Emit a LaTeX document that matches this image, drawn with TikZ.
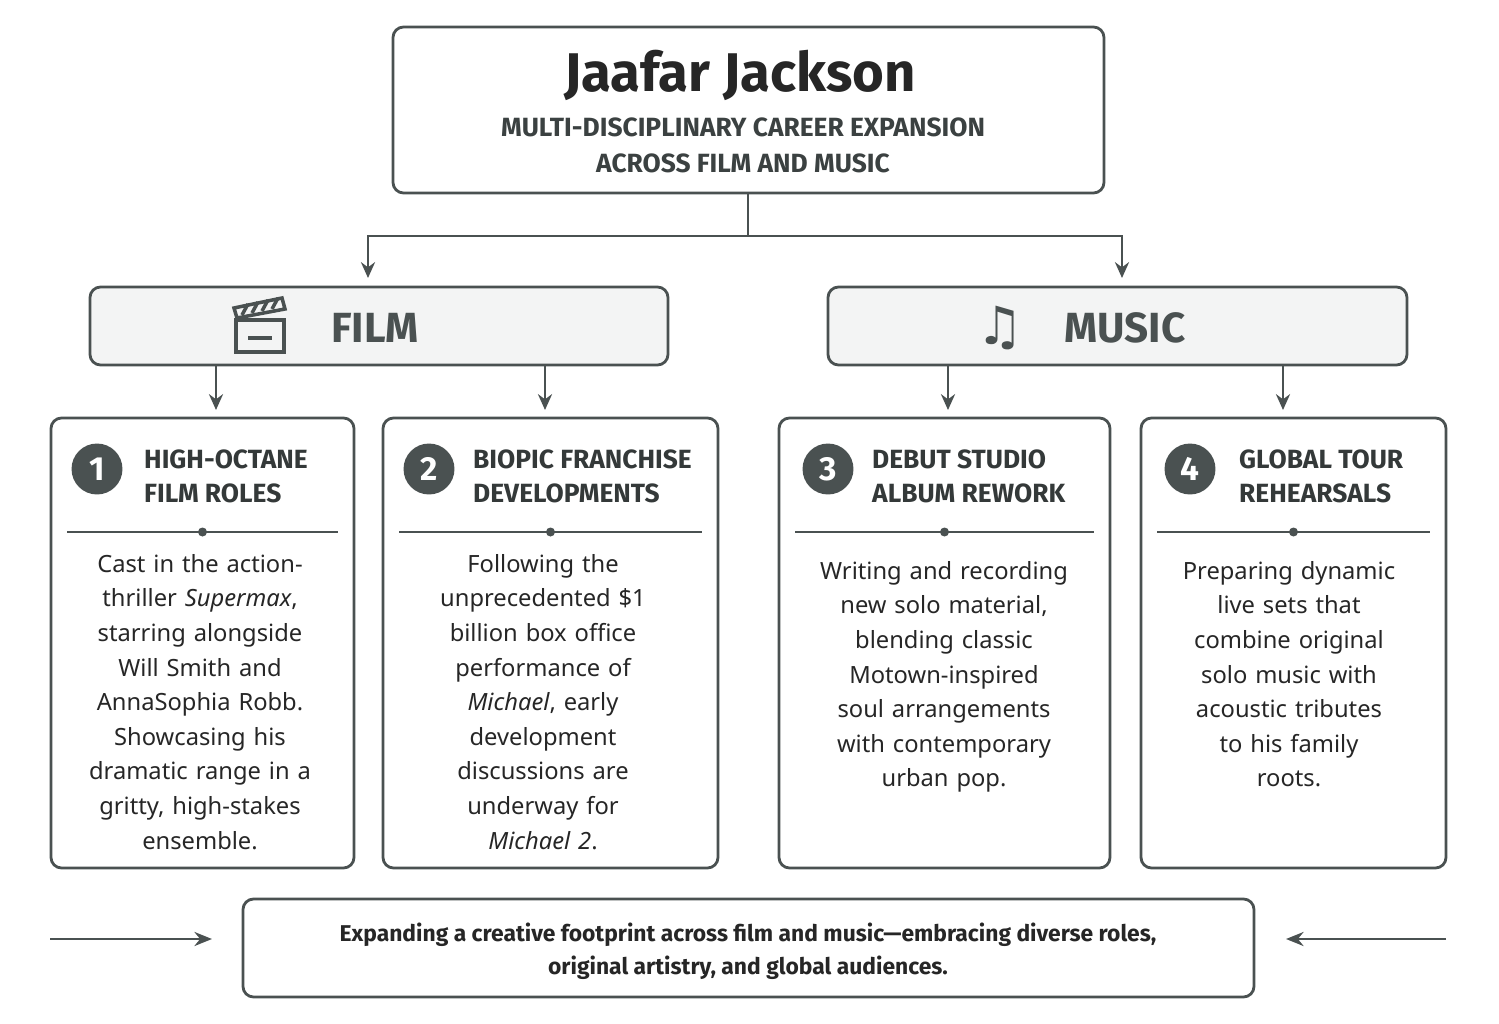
\documentclass[tikz,border=0pt]{standalone}
\usepackage{fontspec}
\setmainfont{Noto Sans}
\newfontfamily\hfont{Fira Sans}
\newfontfamily\symfont{DejaVu Sans}
\usetikzlibrary{arrows.meta,positioning}
\definecolor{ink}{HTML}{4A5151}
\definecolor{panel}{HTML}{F3F4F4}
\tikzset{
  box/.style={draw=ink,line width=1.6pt,rounded corners=6pt,fill=white},
  head/.style={box,fill=panel},
  link/.style={draw=ink,line width=1.5pt,-{Stealth[length=9pt,width=8pt]}},
  num/.style={circle,fill=ink,minimum size=29pt,inner sep=0pt,text=white,font=\hfont\fontsize{19}{19}\selectfont\bfseries},
  ctitle/.style={anchor=west,align=left,font=\hfont\fontsize{15}{19.5}\selectfont\bfseries,text=ink!70!black},
  body/.style={anchor=north,align=center,text width=#1,font=\fontsize{13.5}{19.7}\selectfont,text=black!85},
}
\begin{document}
\begin{tikzpicture}[x=0.02cm,y=-0.02cm]
\useasboundingbox (0,0) rectangle (1499,1024);
% title
\draw[box] (393,27) rectangle (1104,193);
\node[font=\hfont\fontsize{31}{31}\selectfont\bfseries,text=black!85] (title) at (740,75) {Jaafar Jackson};
\node[align=center,font=\hfont\fontsize{15}{20.5}\selectfont\bfseries,text=ink!80!black] (sub) at (743,145) {MULTI-DISCIPLINARY CAREER EXPANSION\\ACROSS FILM AND MUSIC};
\coordinate (top) at (748,193);
\coordinate (split) at (748,236);
% branches
\draw[head] (90,287) rectangle (668,365);
\draw[head] (828,287) rectangle (1407,365);
\node[font=\hfont\fontsize{24}{24}\selectfont\bfseries,text=ink] (film) at (375,328) {FILM};
\node[font=\hfont\fontsize{24}{24}\selectfont\bfseries,text=ink] (music) at (1125,328) {MUSIC};
\node[font=\symfont\fontsize{30}{30}\selectfont,text=ink] (note) at (1000,328) {♫};
% clapper
\begin{scope}[draw=ink,line width=2pt]
\draw (236,320) rectangle (284,352);
\draw (248,338) -- (272,338);
\draw (234,308) -- (282,298) -- (285,309) -- (237,318) -- cycle;
\foreach \i in {0,1,2,3} \draw (242+\i*10,315-\i*2) -- (248+\i*10,304-\i*2);
\end{scope}
\draw[draw=ink,line width=1.5pt] (top) -- (split);
\draw[link] (split) -| (368,278);
\draw[link] (split) -| (1122,278);
% cards
\foreach \xa/\xb/\n [count=\k] in {51/354/1,383/718/2,779/1110/3,1141/1446/4}{
  \draw[box] (\xa,418) rectangle (\xb,868);
  \draw[ink,line width=1.2pt] (\xa+16,532) -- (\xb-16,532);
  \fill[ink] ({(\xa+\xb)/2},532) circle (4.5);
}
\foreach \x/\y in {216/365,545/365,948/365,1283/365}
  \draw[link] (\x,\y) -- (\x,410);
\node[num] (n1) at (97,469) {1};
\node[num] (n2) at (429,469) {2};
\node[num] (n3) at (828,469) {3};
\node[num] (n4) at (1190,469) {4};
\node[ctitle] (t1) at (138,476) {HIGH-OCTANE\\FILM ROLES};
\node[ctitle] (t2) at (467,476) {BIOPIC FRANCHISE\\DEVELOPMENTS};
\node[ctitle] (t3) at (866,476) {DEBUT STUDIO\\ALBUM REWORK};
\node[ctitle] (t4) at (1233,476) {GLOBAL TOUR\\REHEARSALS};
\node[body=5.6cm] (b1) at (200,548) {Cast in the action-\\thriller \emph{Supermax},\\starring alongside\\Will Smith and\\AnnaSophia Robb.\\Showcasing his\\dramatic range in a\\gritty, high-stakes\\ensemble.};
\node[body=6cm] (b2) at (543,548) {Following the\\unprecedented \$1\\billion box office\\performance of\\\emph{Michael}, early\\development\\discussions are\\underway for\\\emph{Michael 2}.};
\node[body=6cm] (b3) at (944,555) {Writing and recording\\new solo material,\\blending classic\\Motown-inspired\\soul arrangements\\with contemporary\\urban pop.};
\node[body=6cm] (b4) at (1289,555) {Preparing dynamic\\live sets that\\combine original\\solo music with\\acoustic tributes\\to his family\\roots.};
% footer
\draw[box] (243,899) rectangle (1254,997);
\node[align=center,font=\hfont\fontsize{13}{19}\selectfont\bfseries,text=black!85] (foot) at (748,951) {Expanding a creative footprint across film and music—embracing diverse roles,\\original artistry, and global audiences.};
\coordinate (la) at (50,939);
\coordinate (ra) at (1446,939);
\draw[link,-{Stealth[length=10pt,width=8pt]}] (la) -- (212,939);
\draw[link,-{Stealth[length=10pt,width=8pt]}] (ra) -- (1286,939);
\end{tikzpicture}
\end{document}
